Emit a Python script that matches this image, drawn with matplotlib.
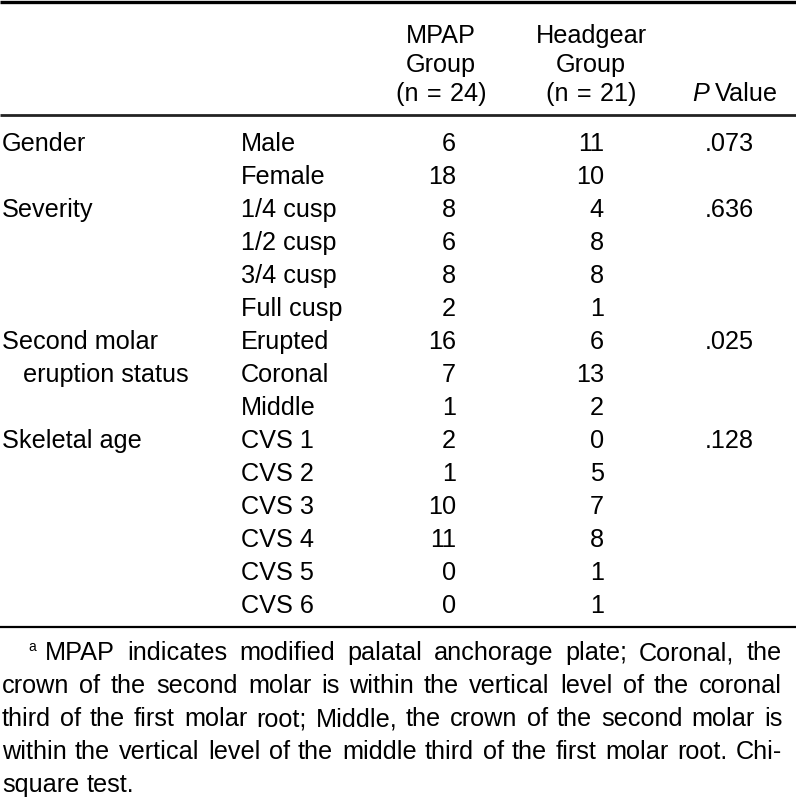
import matplotlib
matplotlib.use("Agg")
import matplotlib.pyplot as plt

plt.rcParams["font.family"] = ["Liberation Sans", "DejaVu Sans"]

# table content
categories = ["Gender", "", "Severity", "", "", "", "Second molar", "   eruption status", "",
              "Skeletal age", "", "", "", "", ""]
levels = ["Male", "Female", "1/4 cusp", "1/2 cusp", "3/4 cusp", "Full cusp",
          "Erupted", "Coronal", "Middle",
          "CVS 1", "CVS 2", "CVS 3", "CVS 4", "CVS 5", "CVS 6"]
mpap = [6, 18, 8, 6, 8, 2, 16, 7, 1, 2, 1, 10, 11, 0, 0]
headgear = [11, 10, 4, 8, 8, 1, 6, 13, 2, 0, 5, 7, 8, 1, 1]
p_values = [".073", "", ".636", "", "", "", ".025", "", "", ".128", "", "", "", "", ""]
header_mpap = ["MPAP", "Group", "(n\u2004=\u200424)"]
header_hg = ["Headgear", "Group", "(n\u2004=\u200421)"]
footnote = [
    "MPAP indicates modified palatal anchorage plate; Coronal, the",
    "crown of the second molar is within the vertical level of the coronal",
    "third of the first molar root; Middle, the crown of the second molar is",
    "within the vertical level of the middle third of the first molar root. Chi-",
    "square test.",
]

W, H = 796, 800
FS = 18.2

fig = plt.figure(figsize=(W / 100, H / 100), dpi=100)
ax = fig.add_axes([0, 0, 1, 1])
ax.set_xlim(0, W)
ax.set_ylim(H, 0)
ax.axis("off")
renderer = fig.canvas.get_renderer()


def width_px(t):
    return t.get_window_extent(renderer=renderer).width


# rules
ax.plot([0, W], [1.5, 1.5], color="black", lw=2.4, solid_capstyle="butt")
ax.plot([0, W], [115, 115], color="#222222", lw=2.0, solid_capstyle="butt")
ax.plot([0, W], [627, 627], color="black", lw=1.6, solid_capstyle="butt")

# header
head_y = [43, 72, 101]
for i, y in enumerate(head_y):
    ax.text(441, y, header_mpap[i], ha="center", va="baseline", fontsize=FS)
    ax.text(591, y, header_hg[i], ha="center", va="baseline", fontsize=FS)
val = ax.text(778, head_y[2], "Value", ha="right", va="baseline", fontsize=FS)
ax.text(778 - width_px(val) - 6, head_y[2], "P", ha="right", va="baseline",
        fontsize=FS, fontstyle="italic")

# body rows
row0, step = 151, 33.0
for i in range(len(levels)):
    y = row0 + i * step
    if categories[i]:
        ax.text(2, y, categories[i], ha="left", va="baseline", fontsize=FS)
    ax.text(241, y, levels[i], ha="left", va="baseline", fontsize=FS)
    ax.text(456, y, str(mpap[i]), ha="right", va="baseline", fontsize=FS)
    ax.text(604, y, str(headgear[i]), ha="right", va="baseline", fontsize=FS)
    if p_values[i]:
        ax.text(705, y, p_values[i], ha="left", va="baseline", fontsize=FS)

# footnote, justified
foot_y = [660, 693, 726, 759, 792]
right = 782
ax.text(28, foot_y[0] - 9, "a", ha="left", va="baseline", fontsize=10)
for j, line in enumerate(footnote):
    left = 45 if j == 0 else 2
    words = line.split(" ")
    texts = [ax.text(0, foot_y[j], w, ha="left", va="baseline", fontsize=FS) for w in words]
    widths = [width_px(t) for t in texts]
    if j < len(footnote) - 1 and len(words) > 1:
        gap = (right - left - sum(widths)) / (len(words) - 1)
    else:
        gap = 7.5
    x = left
    for t, w in zip(texts, widths):
        t.set_x(round(x))
        x += w + gap

fig.savefig("out.png", dpi=100)
